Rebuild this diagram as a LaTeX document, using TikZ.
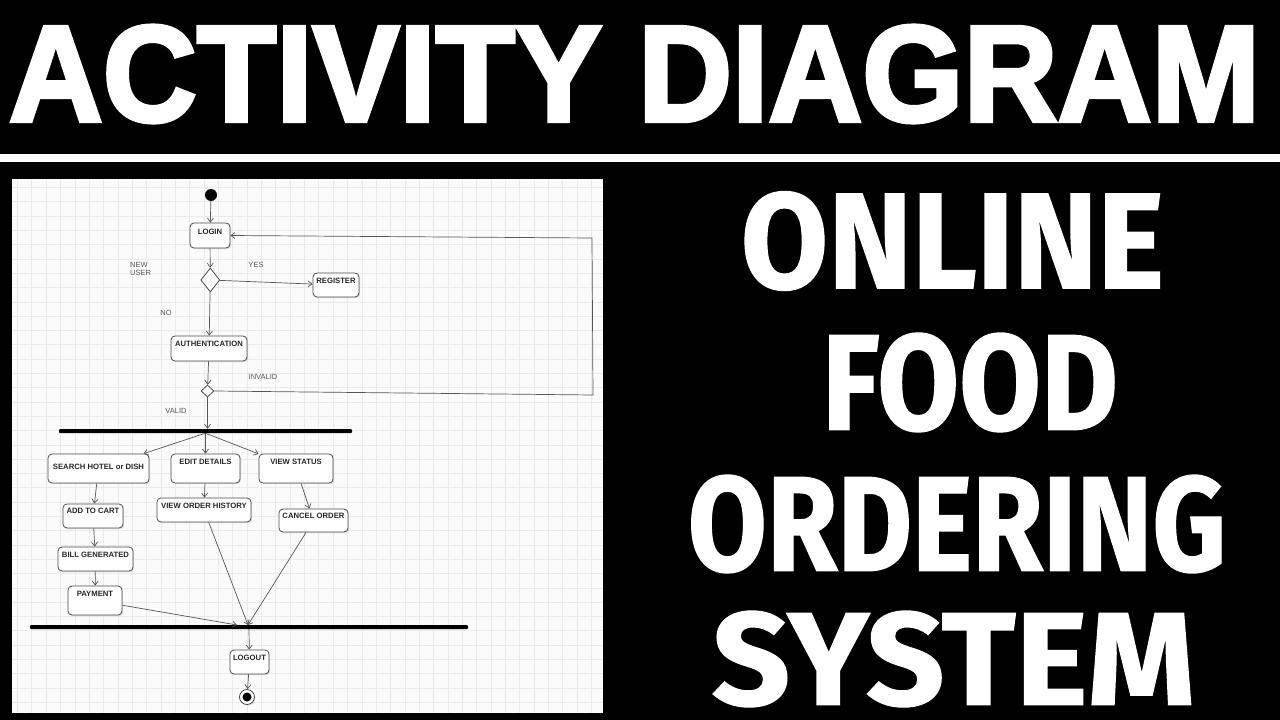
\documentclass[tikz,border=0pt]{standalone}
\usepackage{fontspec}
\setmainfont{Liberation Sans}
\newfontfamily\tfont{Liberation Sans}[BoldFeatures={FakeBold=3}]
\newfontfamily\rfont{Fira Sans}[BoldFeatures={FakeBold=1}]
\usetikzlibrary{shapes.geometric,arrows.meta,shadows}
\definecolor{panelbg}{HTML}{FBFBFB}
\definecolor{gridc}{HTML}{EAEAEA}
\definecolor{linec}{HTML}{555555}
\definecolor{boxc}{HTML}{4A4A4A}
\definecolor{lblc}{HTML}{555555}
\tikzset{
  box/.style={draw=boxc, line width=0.8pt, rounded corners=4pt, fill=white, inner sep=0pt,
    drop shadow={opacity=0.22, shadow xshift=1.2pt, shadow yshift=-1.2pt}},
  txt/.style={anchor=north, inner sep=0pt, text=black!85, font=\bfseries\fontsize{7.7}{9}\selectfont},
  lbl/.style={inner sep=0pt, text=lblc, font=\fontsize{7.5}{8.5}\selectfont},
  conn/.style={draw=linec, line width=0.7pt, -{Straight Barb[length=4pt,width=6pt]}},
  dec/.style={draw=boxc, line width=0.8pt, fill=white, shape=diamond, inner sep=0pt},
  barnode/.style={fill=black, inner sep=0pt, minimum height=4pt, rounded corners=1pt},
  bigtxt/.style={inner sep=0pt, text=white},
}
\begin{document}
\begin{tikzpicture}[x=1pt,y=-1pt]
\useasboundingbox (0,0) rectangle (1280,720);
\fill[black] (0,0) rectangle (1280,720);
% title
\node[bigtxt] (title) at (634.5,74) {\resizebox*{1250pt}{97pt}{\tfont\bfseries ACTIVITY DIAGRAM}};
\fill[white] (0,154) rectangle (1280,162);
% right words
\node[bigtxt] (w1) at (952.5,241) {\resizebox*{423pt}{99pt}{\rfont\bfseries ONLINE}};
\node[bigtxt] (w2) at (970,382.5) {\resizebox*{296pt}{99pt}{\rfont\bfseries FOOD}};
\node[bigtxt] (w3) at (957,524) {\resizebox*{538pt}{98pt}{\rfont\bfseries ORDERING}};
\node[bigtxt] (w4) at (953.5,659) {\resizebox*{483pt}{96pt}{\rfont\bfseries SYSTEM}};
% panel
\fill[panelbg] (12,179) rectangle (603,713);
\begin{scope}
\clip (12,179) rectangle (603,713);
\foreach \gx in {17.35,31.7,...,603} \draw[gridc, line width=0.5pt] (\gx,179) -- (\gx,713);
\foreach \gy in {187.4,201.7,...,713} \draw[gridc, line width=0.5pt] (12,\gy) -- (603,\gy);
\end{scope}
% nodes
\node[circle, fill=black, minimum size=12pt, inner sep=0pt] (start) at (211,195) {};
\node[box, minimum width=40pt, minimum height=25pt, label={[txt, yshift=-6.3pt]north:LOGIN}] (login) at (210,235.5) {};
\node[dec, minimum width=19pt, minimum height=24pt] (d1) at (210.3,280) {};
\node[box, minimum width=46pt, minimum height=24pt, label={[txt, yshift=-5.3pt]north:REGISTER}] (register) at (336,285) {};
\node[box, minimum width=76pt, minimum height=25pt, label={[txt, yshift=-5.3pt]north:AUTHENTICATION}] (auth) at (209,348.5) {};
\node[dec, minimum width=13pt, minimum height=12pt] (d2) at (207.5,391) {};
\node[barnode, minimum width=293pt] (fork) at (205.5,431) {};
\node[box, minimum width=101pt, minimum height=29pt, label={[txt, yshift=-10pt]north:SEARCH HOTEL or DISH}] (search) at (98.5,468.5) {};
\node[box, minimum width=69pt, minimum height=29pt, label={[txt, yshift=-5pt]north:EDIT DETAILS}] (edit) at (205.5,468.5) {};
\node[box, minimum width=74pt, minimum height=29pt, label={[txt, yshift=-5pt]north:VIEW STATUS}] (vstatus) at (296,468.5) {};
\node[box, minimum width=60pt, minimum height=24pt, label={[txt, yshift=-4pt]north:ADD TO CART}] (add) at (93,516) {};
\node[box, minimum width=94pt, minimum height=24pt, label={[txt, yshift=-5pt]north:VIEW ORDER HISTORY}] (voh) at (204,510) {};
\node[box, minimum width=69pt, minimum height=23pt, label={[txt, yshift=-4pt]north:CANCEL ORDER}] (cancel) at (313.5,520.5) {};
\node[box, minimum width=75pt, minimum height=24pt, label={[txt, yshift=-5pt]north:BILL GENERATED}] (bill) at (95.5,559) {};
\node[box, minimum width=54pt, minimum height=29pt, label={[txt, yshift=-5pt]north:PAYMENT}] (payment) at (95,600.5) {};
\node[barnode, minimum width=438pt] (join) at (249,627) {};
\node[box, minimum width=39pt, minimum height=24pt, label={[txt, yshift=-5pt]north:LOGOUT}] (logout) at (249.5,662) {};
\node[circle, draw=boxc, line width=0.8pt, fill=white, minimum size=15pt, inner sep=0pt,
  drop shadow={opacity=0.22, shadow xshift=1pt, shadow yshift=-1pt}] (end) at (247,697) {};
\node[circle, fill=black, minimum size=9pt, inner sep=0pt] (endin) at (247,697) {};
% labels
\node[lbl, anchor=west, align=left] (lnew) at (130,269) {NEW\\USER};
\node[lbl] (lyes) at (256,265) {YES};
\node[lbl] (lno) at (166,313) {NO};
\node[lbl] (linv) at (263,377) {INVALID};
\node[lbl] (lval) at (176,411) {VALID};
% coordinates
\coordinate (fb1) at (593,395);
\coordinate (fb2) at (592,238);
\coordinate (j1) at (237,625);
\coordinate (j2) at (248,625);
% connectors
\draw[conn] (start) -- (login);
\draw[conn] (login) -- (d1);
\draw[conn] (d1) -- (register);
\draw[conn] (d1) -- (auth);
\draw[conn] (auth) -- (d2);
\draw[conn] (d2.east) -- (fb1) -- (fb2) -- (login.east);
\draw[conn] (d2) -- (d2 |- fork.north);
\draw[conn] (fork.south) -- (search);
\draw[conn] (fork.south) -- (edit);
\draw[conn] (fork.south) -- (vstatus);
\draw[conn] (search) -- (add);
\draw[conn] (add) -- (bill);
\draw[conn] (bill) -- (payment);
\draw[conn] (edit) -- (voh);
\draw[conn] (vstatus) -- (cancel);
\draw[conn] (payment) -- (j1);
\draw[conn] (voh) -- (j2);
\draw[conn] (cancel) -- (j2);
\draw[conn] (join.south) -- (logout);
\draw[conn] (logout) -- (end);
\end{tikzpicture}
\end{document}
